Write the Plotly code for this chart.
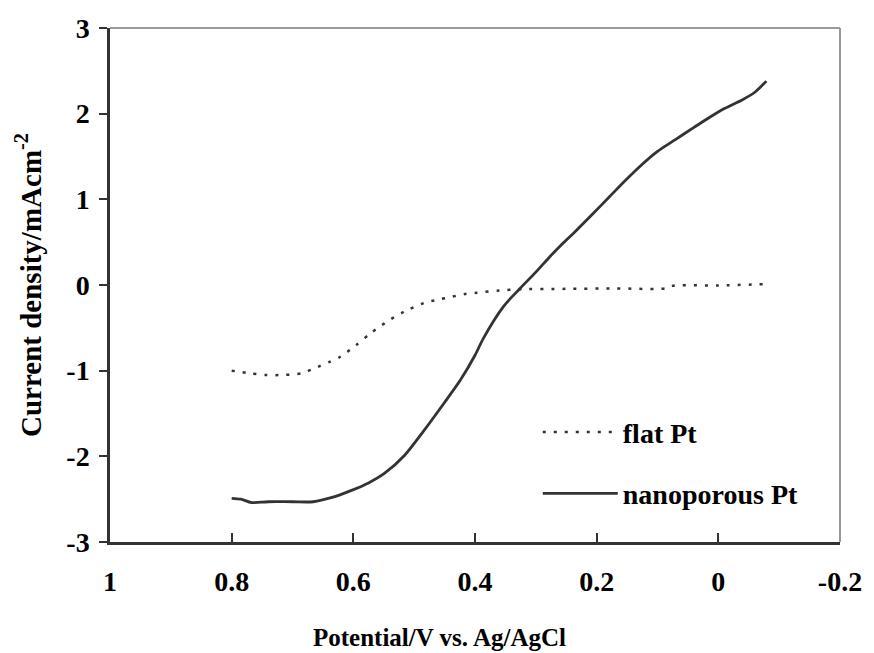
import plotly.graph_objects as go

# Nanoporous Pt (solid)
nano_x = [0.80, 0.785, 0.767, 0.74, 0.70, 0.666, 0.635, 0.604, 0.575, 0.549, 0.516, 0.484, 0.451,
          0.424, 0.40, 0.386, 0.353, 0.326, 0.30, 0.277, 0.255, 0.233, 0.205, 0.179, 0.15,
          0.125, 0.10, 0.070, 0.04, 0.016, -0.01, -0.039, -0.06, -0.079]
nano_y = [-2.49, -2.50, -2.54, -2.53, -2.53, -2.53, -2.48, -2.40, -2.31, -2.20, -1.99, -1.70, -1.38,
          -1.11, -0.82, -0.62, -0.25, -0.04, 0.15, 0.33, 0.49, 0.64, 0.84, 1.03, 1.24,
          1.41, 1.56, 1.70, 1.84, 1.95, 2.06, 2.16, 2.25, 2.38]

# Flat Pt (dotted)
flat_x = [0.80, 0.77, 0.745, 0.715, 0.685, 0.658, 0.64, 0.622, 0.595, 0.571, 0.543, 0.516, 0.484,
          0.46, 0.44, 0.416, 0.397, 0.36, 0.331, 0.25, 0.168, 0.087, 0.076, 0.0, -0.077]
flat_y = [-1.00, -1.03, -1.05, -1.05, -1.03, -0.955, -0.90, -0.84, -0.70, -0.56, -0.42, -0.31, -0.21,
          -0.17, -0.14, -0.105, -0.09, -0.065, -0.05, -0.045, -0.04, -0.04, -0.01, -0.005, 0.01]

x_ticks = [1, 0.8, 0.6, 0.4, 0.2, 0, -0.2]
x_tick_text = ["1", "0.8", "0.6", "0.4", "0.2", "0", "-0.2"]
y_ticks = [-3, -2, -1, 0, 1, 2, 3]
y_tick_text = ["-3", "-2", "-1", "0", "1", "2", "3"]

FONT = "Liberation Serif"
DARK = "#333333"
TICKFONT = dict(family=FONT, size=28, color="black", weight="bold")

fig = go.Figure()
fig.add_trace(go.Scatter(x=flat_x, y=flat_y, mode="lines", name="flat Pt",
                         legendgroup="a",
                         line=dict(color=DARK, width=2.5, dash="3px,8px",
                                   shape="spline", smoothing=0.8)))
fig.add_trace(go.Scatter(x=nano_x, y=nano_y, mode="lines", name="nanoporous Pt",
                         legendgroup="b",
                         line=dict(color=DARK, width=2.8, shape="spline", smoothing=0.8)))

fig.update_layout(
    width=874, height=653,
    margin=dict(l=110, r=29, t=28, b=111),
    paper_bgcolor="white", plot_bgcolor="white",
    font=dict(family=FONT, color="black", size=26),
    showlegend=True,
    legend=dict(x=0.586, y=0.262, xanchor="left", yanchor="top",
                bgcolor="rgba(0,0,0,0)", itemwidth=75,
                font=dict(family=FONT, size=28, color="black", weight="bold"),
                tracegroupgap=22, traceorder="grouped"),
    xaxis=dict(range=[1, -0.2], tickvals=x_ticks, ticktext=x_tick_text,
               ticks="inside", ticklen=9, tickcolor=DARK, tickwidth=1.5,
               showline=True, linecolor=DARK, linewidth=2.5,
               showgrid=False, zeroline=False,
               tickfont=TICKFONT,
               ticklabelstandoff=13),
    yaxis=dict(range=[-3, 3], tickvals=y_ticks, ticktext=y_tick_text,
               ticks="outside", ticklen=8, tickcolor=DARK, tickwidth=1.5,
               showline=True, linecolor=DARK, linewidth=2.5,
               showgrid=False, zeroline=False,
               tickfont=TICKFONT,
               ticklabelstandoff=4,
               title=dict(text="Current density/mAcm<sup>-2</sup>",
                          font=dict(family=FONT, size=29, color="black", weight="bold"),
                          standoff=17)),
)

# x-axis title (offset left of plot centre as in the reference)
fig.add_annotation(text="Potential/V vs. Ag/AgCl", xref="paper", yref="paper",
                   x=0.452, y=-0.185, xanchor="center", yanchor="middle", showarrow=False,
                   font=dict(family=FONT, size=25, color="black", weight="bold"))

# Gray top and right frame
fig.add_shape(type="line", xref="paper", yref="paper", x0=0, x1=1, y0=1, y1=1,
              line=dict(color="#999999", width=2))
fig.add_shape(type="line", xref="paper", yref="paper", x0=1, x1=1, y0=0, y1=1,
              line=dict(color="#999999", width=2))

fig.write_html("out.html")
